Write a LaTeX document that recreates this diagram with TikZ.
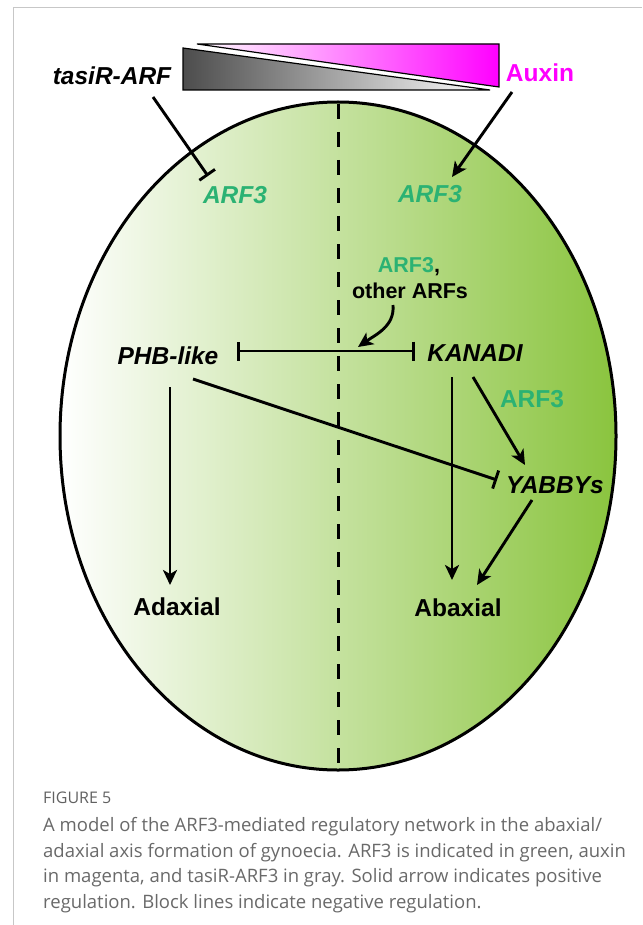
\documentclass[tikz,border=0pt]{standalone}
\usepackage{fontspec}
\setmainfont{Liberation Sans}
\newfontfamily\capfont{Open Sans}
\usetikzlibrary{arrows.meta,calc}
\definecolor{arfgreen}{RGB}{43,178,115}
\definecolor{leafgreen}{RGB}{138,196,62}
\definecolor{capgray}{RGB}{105,105,105}
\definecolor{auxmag}{RGB}{255,0,255}
\begin{document}
\begin{tikzpicture}[x=1pt,y=-1pt,
  lbl/.style={inner sep=0pt, anchor=base, font=\fontsize{24.5}{28}\selectfont\bfseries},
  gene/.style={lbl, font=\fontsize{24.5}{28}\selectfont\bfseries\itshape},
  small/.style={lbl, font=\fontsize{21.5}{25}\selectfont\bfseries},
  link/.style={line width=2.9pt, black},
  act/.style={link, -{Stealth[length=15pt,width=14pt,inset=4pt]}},
  rep/.style={link, -{Bar[width=19pt,line width=2.9pt]}},
  caption/.style={inner sep=0pt, anchor=base west, text=capgray, font=\capfont\fontsize{18.5}{25}\selectfont}
]
\useasboundingbox (0,0) rectangle (642,925);
% frame
\draw[black!22, line width=1pt] (13,925) -- (13,8) -- (642,8);

% ellipse
\shade[left color=white, right color=leafgreen] (338,436) ellipse [x radius=278pt, y radius=334pt];
\draw[line width=3pt] (338,436) ellipse [x radius=278pt, y radius=334pt];
\coordinate (dtop) at (338,104);
\coordinate (dbot) at (338,770);
\draw[line width=3pt, dash pattern=on 15pt off 13pt] (dtop) -- (dbot);

% gradient triangles
\shade[left color=black!70, right color=white] (183,48) -- (183,90) -- (490,90) -- cycle;
\draw[line width=1.2pt] (183,48) -- (183,90) -- (490,90) -- cycle;
\shade[left color=white, right color=auxmag] (197,44) -- (499,44) -- (499,87) -- cycle;
\draw[line width=1.2pt] (197,44) -- (499,44) -- (499,87) -- cycle;

% labels
\node[gene] (tasir) at (112,85) {tasiR-ARF};
\node[lbl, text=auxmag] (auxin) at (540,82) {Auxin};
\node[gene, text=arfgreen] (arfL) at (235,204) {ARF3};
\node[gene, text=arfgreen] (arfR) at (430,203) {ARF3};
\node[small] (arfM) at (409,272) {\textcolor{arfgreen}{ARF3},};
\node[small] (oth) at (410,298) {other ARFs};
\node[gene] (phb) at (168,364) {PHB-like};
\node[gene] (kan) at (475,361) {KANADI};
\node[lbl, text=arfgreen] (arfK) at (532,407) {ARF3};
\node[gene] (yab) at (555,493) {YABBYs};
\node[lbl] (adax) at (177,615) {Adaxial};
\node[lbl] (abax) at (458,616) {Abaxial};

% connectors
\draw[rep] ($(tasir.base)+(41,12)$) -- ($(arfL.base)+(-27,-28)$);
\draw[act] ($(auxin.base)+(-28,10)$) -- ($(arfR.base)+(22,-26)$);
\draw[link, {Bar[width=19pt,line width=2.9pt]}-{Bar[width=19pt,line width=2.9pt]}]
  ($(phb.base)+(69,-13)$) -- ($(kan.base)+(-60,-10)$);
\draw[act] ($(oth.base)+(-17,7)$) to[out=-85,in=35] ($(kan.base)+(-117,-14)$);
\draw[act] ($(phb.base)+(2,23)$) -- ($(adax.base)+(-7,-30)$);
\draw[rep] ($(phb.base)+(25,15)$) -- ($(yab.base)+(-58,-13)$);
\draw[act] ($(kan.base)+(-23,16)$) -- ($(abax.base)+(-6,-36)$);
\draw[act] ($(kan.base)+(-2,16)$) -- ($(yab.base)+(-30,-28)$);
\draw[act] ($(yab.base)+(-23,7)$) -- ($(abax.base)+(19,-31)$);

% caption
\node[caption, text=black!62, font=\capfont\fontsize{16}{18}\selectfont] (fig) at (43,803) {FIGURE 5};
\node[caption] (c1) at (43,831) {A model of the ARF3-mediated regulatory network in the abaxial/};
\node[caption] (c2) at (43,857) {adaxial axis formation of gynoecia. ARF3 is indicated in green, auxin};
\node[caption] (c3) at (43,882) {in magenta, and tasiR-ARF3 in gray. Solid arrow indicates positive};
\node[caption] (c4) at (43,908) {regulation. Block lines indicate negative regulation.};
\end{tikzpicture}
\end{document}
